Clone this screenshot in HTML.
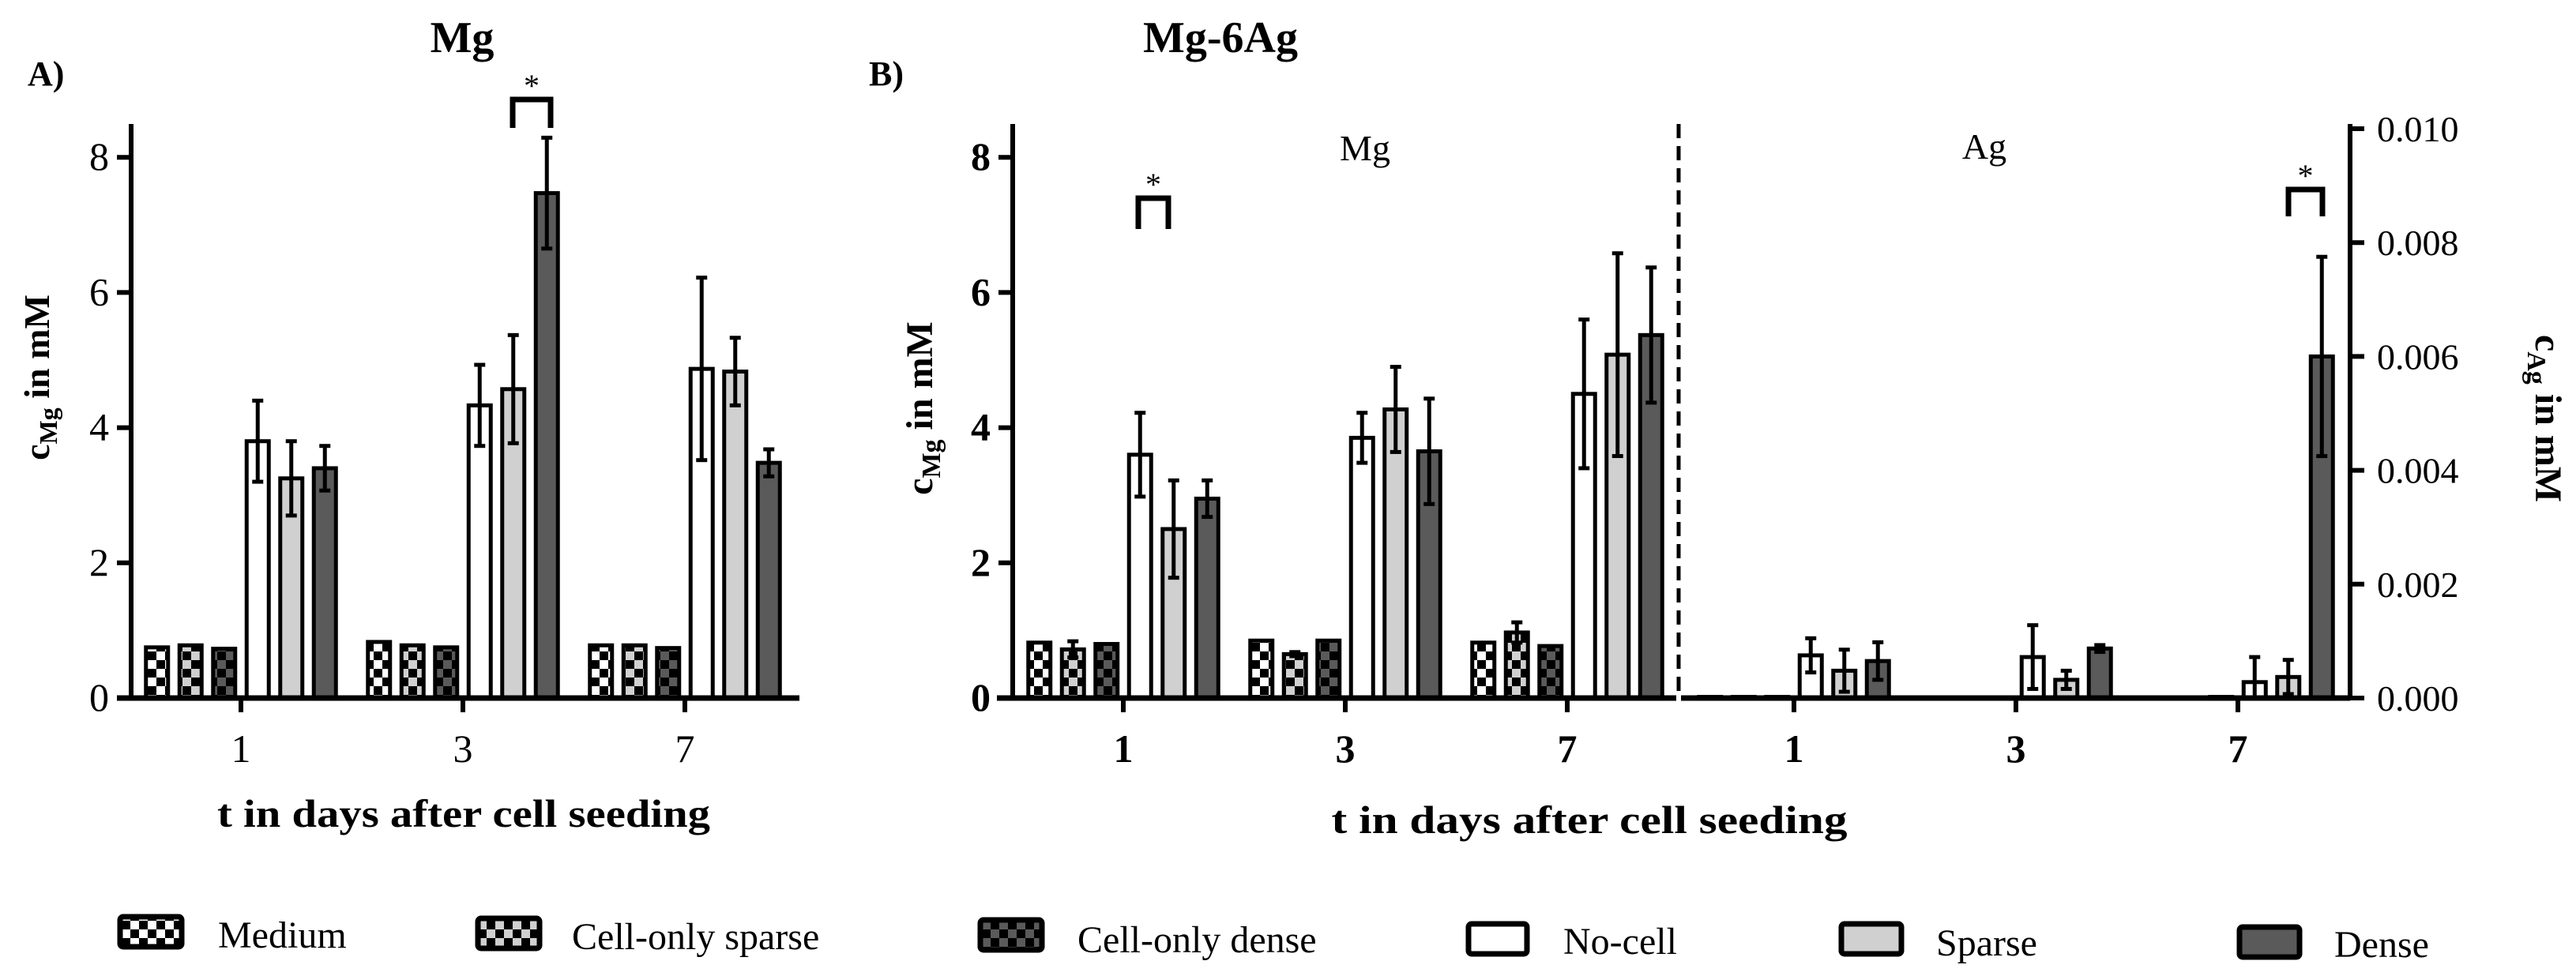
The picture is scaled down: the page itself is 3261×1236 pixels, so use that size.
<!DOCTYPE html>
<html><head><meta charset="utf-8"><style>
html,body{margin:0;padding:0;background:#fff;}
svg{display:block;}
svg text{font-family:"Liberation Serif",serif;}
</style></head><body>
<svg id="chart" width="3261" height="1236" viewBox="0 0 3261 1236" xmlns="http://www.w3.org/2000/svg" font-family="Liberation Serif, serif">
<defs>
<pattern id="chkW" patternUnits="userSpaceOnUse" width="22" height="22"><rect width="22" height="22" fill="#fff"/><rect width="11" height="11" fill="#000"/><rect x="11" y="11" width="11" height="11" fill="#000"/></pattern>
<pattern id="chkL" patternUnits="userSpaceOnUse" width="22" height="22"><rect width="22" height="22" fill="#d0d0d0"/><rect width="11" height="11" fill="#000"/><rect x="11" y="11" width="11" height="11" fill="#000"/></pattern>
<pattern id="chkD" patternUnits="userSpaceOnUse" width="22" height="22"><rect width="22" height="22" fill="#5a5a5a"/><rect width="11" height="11" fill="#000"/><rect x="11" y="11" width="11" height="11" fill="#000"/></pattern>
</defs>
<g id="static">
<text x="35" y="108" font-size="44" font-weight="bold">A)</text>
<text x="585" y="66" font-size="56" font-weight="bold" text-anchor="middle">Mg</text>
<text x="1100" y="108" font-size="44" font-weight="bold">B)</text>
<text x="1545" y="66" font-size="56" font-weight="bold" text-anchor="middle">Mg-6Ag</text>
<text x="1728" y="203" font-size="46" text-anchor="middle">Mg</text>
<text x="2512" y="201" font-size="46" text-anchor="middle">Ag</text>
<text transform="translate(62,478) rotate(-90)" font-size="46" font-weight="bold" text-anchor="middle">c<tspan font-size="32" dy="10">Mg</tspan><tspan dy="-10"> in mM</tspan></text>
<text transform="translate(1180,517) rotate(-90)" font-size="48" font-weight="bold" text-anchor="middle">c<tspan font-size="34" dy="10">Mg</tspan><tspan dy="-10"> in mM</tspan></text>
<text transform="translate(3210,530) rotate(90)" font-size="48" font-weight="bold" text-anchor="middle">c<tspan font-size="34" dy="10">Ag</tspan><tspan dy="-10"> in mM</tspan></text>
<text x="587" y="1047" font-size="50" font-weight="bold" text-anchor="middle" textLength="624" lengthAdjust="spacingAndGlyphs">t in days after cell seeding</text>
<text x="2012" y="1055" font-size="50" font-weight="bold" text-anchor="middle" textLength="653" lengthAdjust="spacingAndGlyphs">t in days after cell seeding</text>
<line x1="2125" y1="157" x2="2125" y2="884" stroke="#000" stroke-width="5" stroke-dasharray="18 10"/>
</g>
<g id="legend">
<g><rect x="152" y="1161" width="78" height="38" rx="4" fill="url(#chkW)" stroke="#000" stroke-width="7"/><text x="276" y="1200" font-size="48">Medium</text></g>
<g><rect x="605" y="1163" width="78" height="38" rx="4" fill="url(#chkL)" stroke="#000" stroke-width="7"/><text x="724" y="1202" font-size="48">Cell-only sparse</text></g>
<g><rect x="1241" y="1165" width="78" height="38" rx="4" fill="url(#chkD)" stroke="#000" stroke-width="7"/><text x="1364" y="1206" font-size="48">Cell-only dense</text></g>
<g><rect x="1859" y="1170" width="74" height="38" rx="4" fill="#fff" stroke="#000" stroke-width="7"/><text x="1979" y="1208" font-size="48">No-cell</text></g>
<g><rect x="2331" y="1170" width="76" height="38" rx="4" fill="#d0d0d0" stroke="#000" stroke-width="7"/><text x="2451" y="1210" font-size="48">Sparse</text></g>
<g><rect x="2835" y="1174" width="76" height="38" rx="4" fill="#5a5a5a" stroke="#000" stroke-width="7"/><text x="2955" y="1212" font-size="48">Dense</text></g>
</g>
</svg>
<script>
var dayLabels = ['1','3','7'];
var seriesNames = ['medium','cell-only-sparse','cell-only-dense','no-cell','sparse','dense'];
var mgTicks = [0,2,4,6,8];
var agTicks = ['0.000','0.002','0.004','0.006','0.008','0.010'];
var agTickValues = [0,0.002,0.004,0.006,0.008,0.010];
// Panel A (Mg)
var aMedium = [0.75,0.83,0.78];
var aCellOnlySparse = [0.78,0.78,0.78];
var aCellOnlyDense = [0.73,0.75,0.74];
var aNoCell = [3.8,4.33,4.87];
var aSparse = [3.25,4.57,4.83];
var aDense = [3.4,7.47,3.48];
var aNoCellErr = [0.6,0.6,1.35];
var aSparseErr = [0.55,0.8,0.5];
var aDenseErr = [0.33,0.82,0.2];
// Panel B Mg
var bMedium = [0.82,0.85,0.82];
var bCellOnlySparse = [0.72,0.65,0.97];
var bCellOnlyDense = [0.8,0.85,0.77];
var bNoCell = [3.6,3.85,4.5];
var bSparse = [2.5,4.27,5.08];
var bDense = [2.95,3.65,5.37];
var bCellOnlySparseErr = [0.12,0.03,0.15];
var bNoCellErr = [0.62,0.37,1.1];
var bSparseErr = [0.72,0.63,1.5];
var bDenseErr = [0.27,0.78,1.0];
// Panel B Ag (mM)
var cMedium = [0.00002,0.00001,0.00001];
var cCellOnlySparse = [0.00002,0.00001,0.00001];
var cCellOnlyDense = [0.00002,0.00001,0.00002];
var cNoCell = [0.00075,0.00072,0.00028];
var cSparse = [0.00048,0.00032,0.00037];
var cDense = [0.00065,0.00087,0.006];
var cNoCellErr = [0.0003,0.00056,0.00044];
var cSparseErr = [0.00037,0.00016,0.0003];
var cDenseErr = [0.00033,0.00006,0.00175];

var NS = 'http://www.w3.org/2000/svg';
var svg = document.getElementById('chart');
var fills = ['url(#chkW)','url(#chkL)','url(#chkD)','#fff','#d0d0d0','#5a5a5a'];
function mk(tag, attrs, parent){var e=document.createElementNS(NS,tag);for(var k in attrs)e.setAttribute(k,attrs[k]);(parent||svg).appendChild(e);return e;}
function yMg(v){return 884 - v*85.6;}
function yAg(v){return 884 - v/0.002*144.2;}

function drawBars(prefix, first, yFn, means, errs, startIdx){
  for(var s=startIdx;s<6;s++){
    for(var g=0;g<3;g++){
      var v = means[s][g];
      var cx = first + g*281 + (s-2.5)*42.5;
      var yt = yFn(v), y0 = yFn(0);
      var r = mk('rect',{x:cx-14,y:yt,width:28,height:Math.max(y0-yt,0.5),fill:fills[s],stroke:'#000','stroke-width':5});
      
      
      var e = errs[s] ? errs[s][g] : 0;
      if(e>0){
        var eg = mk('g',{stroke:'#000','stroke-width':5});
        
        
        var yu=yFn(v+e), yd=yFn(Math.max(v-e,0));
        mk('line',{x1:cx,y1:yu,x2:cx,y2:yd},eg);
        mk('line',{x1:cx-7,y1:yu,x2:cx+7,y2:yu},eg);
        mk('line',{x1:cx-7,y1:yd,x2:cx+7,y2:yd},eg);
      }
    }
  }
}
function axisY(prefix, x, vals, labels, yFn, bold, right){
  var ax = mk('line',{x1:x,y1:157,x2:x,y2:887,stroke:'#000','stroke-width':6});
  
  
  for(var i=0;i<vals.length;i++){
    var y=yFn(vals[i]);
    mk('line',{x1:x,y1:y,x2:right?x+18:x-18,y2:y,stroke:'#000','stroke-width':6});
    var t = mk('text',{x:right?x+34:x-28,y:y+16,'font-size':right?46:50,'text-anchor':right?'start':'end','font-weight':bold?'bold':'normal'});
    t.textContent = labels[i];
    
    
  }
}
function axisX(prefix, x1, x2, first, bold){
  var ax = mk('line',{x1:x1,y1:884,x2:x2,y2:884,stroke:'#000','stroke-width':7});
  
  
  for(var g=0;g<3;g++){
    var cx = first + g*281;
    mk('line',{x1:cx,y1:884,x2:cx,y2:902,stroke:'#000','stroke-width':6});
    var t = mk('text',{x:cx,y:965,'font-size':50,'text-anchor':'middle','font-weight':bold?'bold':'normal'});
    t.textContent = dayLabels[g];
    
    
  }
}
function sig(name, x1, x2, yTop, yBot){
  var g = mk('g',{});
  
  
  mk('path',{d:'M'+x1+' '+yBot+' V'+yTop+' H'+x2+' V'+yBot,fill:'none',stroke:'#000','stroke-width':7},g);
  var t = mk('text',{x:(x1+x2)/2,y:yTop-4,'font-size':40,'text-anchor':'middle'},g);
  t.textContent='*';
}

// Panel A
drawBars('panel-a', 305, yMg, [aMedium,aCellOnlySparse,aCellOnlyDense,aNoCell,aSparse,aDense], [null,null,null,aNoCellErr,aSparseErr,aDenseErr], 0);
axisY('panel-a', 166, mgTicks, mgTicks.map(String), yMg, false, false);
axisX('panel-a', 148, 1012, 305, false);
sig('panel-a-significance-day3', 649, 697, 126, 162);

// Panel B Mg
drawBars('panel-b-mg', 1422, yMg, [bMedium,bCellOnlySparse,bCellOnlyDense,bNoCell,bSparse,bDense], [null,bCellOnlySparseErr,null,bNoCellErr,bSparseErr,bDenseErr], 0);
axisY('panel-b-mg', 1282, mgTicks, mgTicks.map(String), yMg, true, false);
axisX('panel-b-mg', 1262, 2122, 1422, true);
sig('panel-b-significance-mg-day1', 1441, 1479, 251, 290);

// Panel B Ag
drawBars('panel-b-ag', 2271, yAg, [cMedium,cCellOnlySparse,cCellOnlyDense,cNoCell,cSparse,cDense], [null,null,null,cNoCellErr,cSparseErr,cDenseErr], 0);
axisY('panel-b-ag', 2975, agTickValues, agTicks, yAg, false, true);
axisX('panel-b-ag', 2128, 2975, 2271, true);
sig('panel-b-significance-ag-day7', 2897, 2940, 240, 274);
</script>
</body></html>
